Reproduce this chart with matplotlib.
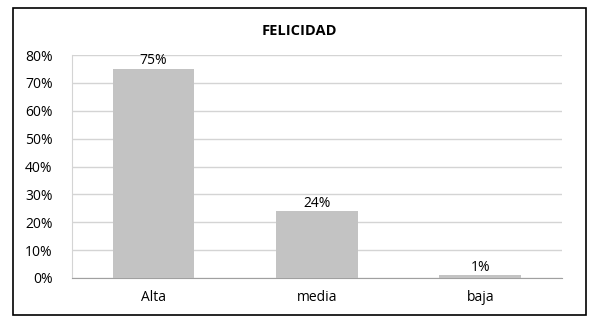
import matplotlib.pyplot as plt
from matplotlib.patches import Rectangle
from matplotlib.ticker import PercentFormatter

categories = ['Alta', 'media', 'baja']
values = [75, 24, 1]
labels = ['75%', '24%', '1%']
yticks = [0, 10, 20, 30, 40, 50, 60, 70, 80]

plt.rcParams['font.family'] = ['Open Sans', 'DejaVu Sans']

fig = plt.figure(figsize=(5.96, 3.24), dpi=100)
ax = fig.add_axes([0.1208, 0.142, 0.822, 0.688])

x = range(len(categories))
bars = ax.bar(x, values, width=0.5, color='#c3c3c3', zorder=3)
for b, lab in zip(bars, labels):
    ax.text(b.get_x() + b.get_width() / 2, b.get_height() + 0.2, lab,
            ha='center', va='bottom', fontsize=10, color='black')

ax.set_xlim(-0.5, 2.5)
ax.set_ylim(0, 80)
ax.set_yticks(yticks)
ax.yaxis.set_major_formatter(PercentFormatter(decimals=0))
ax.set_xticks(list(x))
ax.set_xticklabels(categories)
ax.tick_params(length=0, labelsize=10, colors='black')
ax.tick_params(axis='y', pad=14)
ax.tick_params(axis='x', pad=9)
ax.grid(axis='y', color='#d4d4d4', linewidth=1, zorder=0)
for s in ['top', 'right']:
    ax.spines[s].set_visible(False)
ax.spines['left'].set_color('#d4d4d4')
ax.spines['bottom'].set_color('#a0a0a0')

fig.text(0.503, 0.905, 'FELICIDAD', ha='center', va='center',
         fontsize=10.5, fontweight='bold')

fig.patches.append(Rectangle((0.0218, 0.0278), 0.961, 0.9475, transform=fig.transFigure,
                             fill=False, edgecolor='black', linewidth=1.2))

fig.savefig('out.png', dpi=100)
